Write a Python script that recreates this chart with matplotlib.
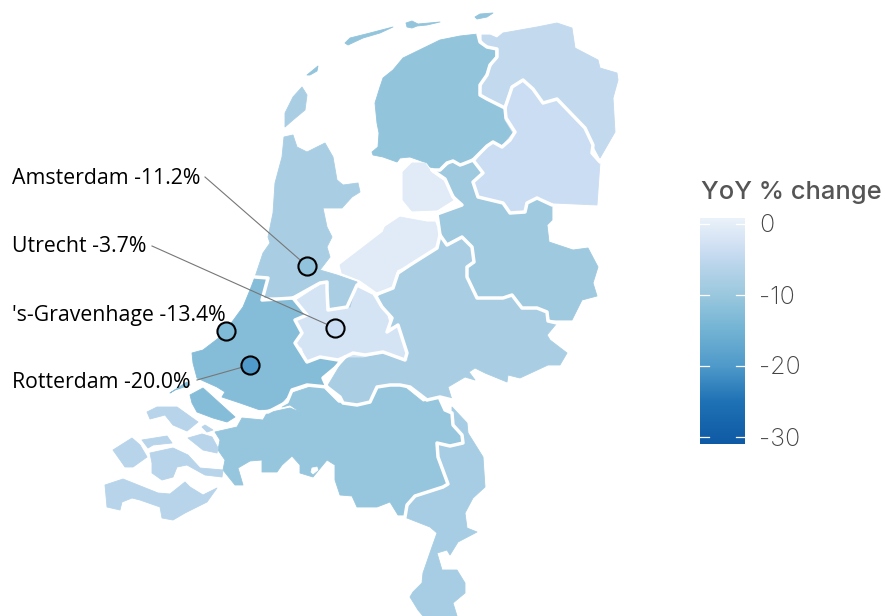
import numpy as np
import matplotlib
matplotlib.use('Agg')
import matplotlib.pyplot as plt
from matplotlib.colors import LinearSegmentedColormap, Normalize
from matplotlib.patches import Polygon

# Outlines of the provinces (map units = pixels of the picture)
friesland = [(478,34),(480,42),(487,48),(495,50),(495,57),(490,63),(485,75),(479,85),(480,95),(487,100),(497,105),(505,109),(506,118),(515,132),(510,140),(502,147),(493,143),(487,145),(473,160),(463,163),(460,165),(453,161),(447,163),(440,170),(430,167),(427,163),(410,157),(400,158),(397,162),(383,157),(373,155),(372,152),(378,147),(379,133),(377,123),(375,103),(380,87),(383,78),(393,70),(403,58),(440,40),(460,36)]
vlieland = [(307,75),(318,66),(317,71),(310,75)]
terschelling = [(345,43),(350,38),(370,33),(393,27),(380,33),(363,38),(348,45)]
ameland = [(406,23),(412,21),(418,24),(440,22),(427,25),(417,26),(412,28),(407,27)]
schiermonnikoog = [(475,17),(480,14),(493,13),(487,17),(477,19)]
groningen = [(482,35),(490,35),(497,38),(503,33),(537,27),(557,23),(572,28),(575,48),(598,60),(600,68),(617,73),(618,80),(613,98),(615,132),(600,158),(593,145),(585,128),(557,100),(543,102),(533,88),(523,80),(512,85),(503,107),(487,98),(481,95),(482,85),(487,75),(497,57),(497,48),(487,47),(482,40)]
drenthe = [(505,108),(512,87),(523,81),(533,90),(543,103),(557,99),(585,128),(593,145),(592,153),(600,162),(597,205),(553,203),(537,198),(527,203),(525,212),(510,212),(505,203),(483,197),(478,197),(473,182),(483,173),(475,162),(487,147),(493,142),(502,146),(513,133),(505,120)]
overijssel = [(433,171),(440,172),(452,162),(460,166),(473,162),(483,173),(473,182),(478,197),(503,203),(510,213),(525,212),(528,202),(540,198),(552,205),(552,220),(547,225),(549,242),(573,250),(588,248),(598,267),(593,283),(597,296),(582,300),(572,320),(550,320),(547,310),(537,308),(522,307),(512,295),(503,298),(480,298),(475,293),(467,277),(468,267),(473,260),(472,245),(462,237),(455,240),(447,243),(438,230),(437,213),(462,205),(453,193),(445,178)]
noordoostpolder = [(403,172),(412,163),(425,163),(432,173),(445,182),(453,200),(437,210),(412,211),(403,200)]
flevoland = [(340,265),(383,232),(385,227),(400,217),(427,222),(435,222),(439,233),(435,247),(420,260),(408,265),(397,270),(393,287),(377,292),(360,280),(342,273)]
gelderland = [(440,235),(447,245),(462,237),(472,247),(474,262),(467,267),(467,277),(477,298),(503,298),(512,295),(522,308),(537,308),(547,312),(548,321),(557,323),(547,335),(550,340),(567,353),(560,365),(548,365),(520,378),(508,375),(507,382),(485,373),(475,368),(469,372),(475,380),(465,377),(448,387),(452,400),(440,397),(427,400),(410,387),(400,385),(390,385),(377,387),(370,402),(357,405),(343,403),(340,397),(327,387),(345,357),(353,353),(365,355),(383,352),(405,360),(407,353),(398,325),(387,332),(392,318),(382,307),(375,295),(393,288),(398,273),(410,265),(437,248)]
utrecht = [(297,300),(320,285),(327,282),(327,290),(328,310),(347,307),(357,287),(377,295),(387,315),(390,327),(398,327),(407,360),(387,352),(363,357),(343,357),(337,360),(320,357),(307,362),(302,348),(295,343),(302,333),(295,320),(307,315)]
noord_holland = [(284,137),(293,135),(297,147),(307,152),(325,143),(333,157),(337,180),(343,185),(358,183),(360,192),(352,197),(342,208),(323,208),(327,227),(332,237),(327,247),(330,257),(320,270),(337,275),(357,282),(350,307),(330,308),(327,283),(320,282),(293,298),(270,297),(262,300),(268,278),(255,277),(263,253),(270,243),(268,237),(273,213),(275,183),(282,157)]
texel = [(302,87),(307,95),(305,110),(293,120),(285,127),(285,113),(293,97)]
zuid_holland = [(255,277),(268,278),(262,300),(293,298),(307,315),(295,320),(302,333),(295,343),(307,362),(320,357),(338,360),(335,368),(323,378),(325,388),(307,385),(292,388),(287,397),(277,408),(260,410),(240,403),(222,397),(225,392),(217,387),(197,378),(193,363),(192,353),(203,350),(220,337),(232,322),(243,307),(250,290)]
goeree = [(190,395),(203,388),(235,417),(227,422),(213,418),(197,412),(192,403)]
voorne_tip = [(170,393),(187,382),(190,385),(175,390)]
noord_brabant = [(215,432),(237,427),(242,418),(263,420),(267,413),(290,408),(300,412),(290,405),(282,407),(292,393),(310,387),(323,388),(338,403),(357,405),(368,402),(377,388),(388,385),(402,385),(423,402),(440,399),(445,410),(452,413),(453,425),(462,435),(463,442),(450,445),(437,442),(438,457),(448,482),(443,487),(415,496),(407,505),(405,515),(398,515),(390,502),(377,507),(357,507),(352,496),(340,495),(335,480),(335,465),(327,460),(313,477),(300,473),(300,465),(292,456),(282,465),(277,472),(262,472),(262,460),(250,461),(238,468),(243,485),(235,485),(223,470),(225,460),(218,450),(220,440)]
limburg = [(452,407),(467,423),(468,433),(483,457),(485,487),(473,498),(465,513),(467,528),(477,532),(458,542),(450,555),(447,550),(437,553),(442,570),(457,570),(465,583),(465,593),(453,603),(457,616),(423,616),(418,610),(410,597),(413,592),(422,583),(423,573),(432,547),(437,533),(430,527),(407,518),(405,517),(408,507),(415,497),(448,485),(438,457),(437,443),(450,446),(463,443),(462,433),(453,425),(452,412)]
schouwen = [(147,412),(157,407),(177,407),(198,422),(187,431),(173,425),(165,415),(150,419)]
sint_philipsland = [(202,427),(205,425),(213,430),(207,432)]
tholen = [(188,438),(202,434),(212,437),(218,448),(217,453),(203,450)]
noord_beveland = [(142,440),(167,436),(172,443),(153,445),(148,448)]
walcheren = [(113,450),(132,438),(140,445),(147,457),(133,467),(125,467)]
zuid_beveland = [(150,453),(173,448),(188,455),(200,468),(223,470),(222,477),(205,475),(187,465),(177,467),(173,477),(162,480),(152,473),(152,463)]
zeeuws_vlaanderen = [(105,485),(123,479),(143,487),(158,493),(170,494),(185,482),(190,487),(203,495),(217,488),(207,502),(185,513),(173,520),(162,518),(160,507),(140,500),(132,498),(122,502),(120,510),(107,507)]
biesbosch_hole = [(312,468),(317,467),(318,470),(313,474),(311,472)]

# White borders between the provinces
border_lines = [
    [(478,34),(480,42),(487,47),(497,49),(497,57),(490,65),(487,75),(480,85),(480,95),(487,99),(497,104),(505,108)],
    [(505,108),(506,118),(515,132),(510,140),(502,147),(493,142),(487,146),(473,160)],
    [(473,160),(463,164),(460,165),(453,161),(447,163),(440,170),(432,170)],
    [(505,108),(512,87),(523,80),(533,89),(543,103),(557,99),(585,128),(593,145),(592,153),(600,162)],
    [(473,160),(483,173),(473,182),(478,197),(503,203),(510,213),(525,212),(527,203),(537,198),(552,205)],
    [(432,170),(445,179),(453,197),(462,205),(437,214),(440,235)],
    [(440,235),(447,245),(462,237),(472,247),(474,262),(467,267),(467,277),(477,298),(503,298),(512,295),(522,308),(537,308),(547,312),(548,321),(557,323)],
    [(440,235),(437,248),(410,265),(398,273),(393,288),(375,295)],
    [(375,295),(382,307),(392,318),(387,332),(398,325),(407,353),(405,360),(383,352),(365,355),(353,353),(345,357)],
    [(345,357),(335,368),(323,378),(327,387),(340,397),(343,403),(357,405),(370,402),(377,387),(390,385),(400,385),(410,387),(427,400),(440,397),(452,400)],
    [(440,399),(445,410),(452,413),(453,425),(462,435),(463,443),(450,446),(437,443),(438,457),(448,484),(443,487),(415,496),(407,505),(405,517)],
    [(293,298),(320,283),(327,282),(327,290),(328,310),(347,307),(357,285),(377,295)],
    [(293,298),(307,315),(295,320),(302,333),(295,343),(307,362),(320,357),(338,360),(345,357)],
    [(255,277),(268,278),(262,300),(293,298)],
    [(327,387),(307,385),(292,390),(287,402),(268,412),(258,412)],
]

# YoY change per province, estimated from the fill colours
province_shapes = [
    [friesland, vlieland, terschelling, ameland, schiermonnikoog],
    [groningen], [drenthe], [overijssel],
    [noordoostpolder, flevoland], [gelderland], [utrecht],
    [noord_holland, texel], [zuid_holland, goeree, voorne_tip],
    [noord_brabant], [limburg],
    [schouwen, sint_philipsland, tholen, noord_beveland, walcheren, zuid_beveland, zeeuws_vlaanderen],
]
province_values = [-11.0, -4.8, -3.7, -9.5, -0.8, -8.0, -2.3, -8.0, -12.6, -10.5, -8.4, -6.0]

# Cities
city_names = ['Amsterdam', 'Utrecht', "'s-Gravenhage", 'Rotterdam']
city_values = [-11.2, -3.7, -13.4, -20.0]
city_x = [307, 335, 226, 250]
city_y = [266, 328, 331, 365]
label_x = [12, 12, 12, 12]
label_y = [178, 247, 315, 382]
leader_start = [(205, 177), (152, 246), None, (197, 380)]

legend_ticks = [0, -10, -20, -30]
color_values = [-31, -25, -20, -15, -10, -8, -6, -3.7, 0.85]
color_hex = ['#0f5aa5', '#1f72b5', '#4f9aca', '#72b3d4', '#9ac8de', '#a9cee4', '#b7d4ea', '#cbddf2', '#ebf2fa']
norm = Normalize(vmin=-31, vmax=0.85)
cmap = LinearSegmentedColormap.from_list('yoy', [(float(norm(v)), c) for v, c in zip(color_values, color_hex)])

fig = plt.figure(figsize=(8.85, 6.16), dpi=100)
ax = fig.add_axes([0, 0, 1, 1])
ax.set_xlim(0, 885)
ax.set_ylim(616, 0)
ax.axis('off')

for shapes, value in zip(province_shapes, province_values):
    col = cmap(norm(value))
    for shape in shapes:
        ax.add_patch(Polygon(shape, closed=True, facecolor=col, edgecolor=col, linewidth=0.6, joinstyle='round'))
for line in border_lines:
    ax.plot([p[0] for p in line], [p[1] for p in line], color='white', lw=2.5,
            solid_joinstyle='round', solid_capstyle='round', zorder=2)
ax.add_patch(Polygon(biesbosch_hole, closed=True, facecolor='white', edgecolor='white', linewidth=0.5, zorder=2))

# leader lines, then the city markers and labels
for i in range(len(city_names)):
    if leader_start[i] is not None:
        ax.plot([leader_start[i][0], city_x[i]], [leader_start[i][1], city_y[i]],
                color='#777777', lw=0.8, zorder=3)
    ax.scatter(city_x[i], city_y[i], s=170, color=cmap(norm(city_values[i])),
               edgecolor='black', linewidth=1.5, zorder=4)
    ax.text(label_x[i], label_y[i], '%s %.1f%%' % (city_names[i], city_values[i]),
            fontsize=15.3, family='Open Sans', color='black', va='center', ha='left', zorder=5)

# legend
cax = fig.add_axes([700/885, 1 - 444/616, 45/885, 226/616])
grad = np.linspace(0.85, -31, 256).reshape(-1, 1)
cax.imshow(grad, cmap=cmap, norm=norm, aspect='auto', extent=[0, 1, -31, 0.85])
cax.axis('off')
for t in legend_ticks:
    cax.plot([0, 0.2], [t, t], color='white', lw=0.9)
    cax.plot([0.8, 1], [t, t], color='white', lw=0.9)
    ax.text(759, 226 + (-t) * 7.1, str(t), fontsize=18, family='Inter', weight='light',
            color='#444444', va='center', ha='left')
cax.set_xlim(0, 1)
cax.set_ylim(-31, 0.85)
ax.text(701, 193, 'YoY % change', fontsize=18.4, family='Inter', weight='medium',
        color='#555555', va='center', ha='left')

fig.savefig('out.png', dpi=100)
